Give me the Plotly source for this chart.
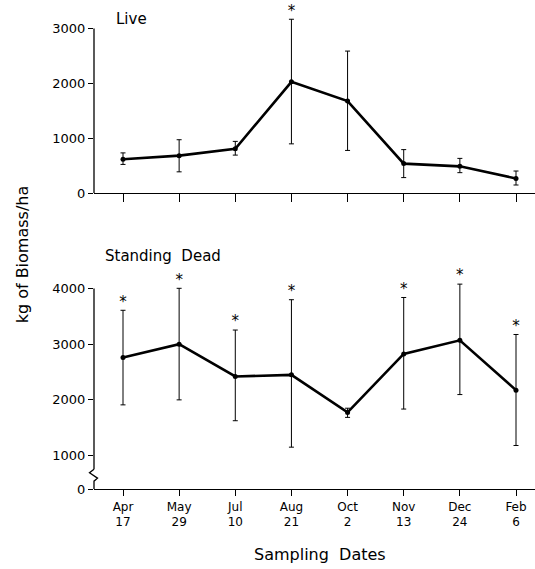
import plotly.graph_objects as go

# ---- data ----
dates = ["Apr<br>17", "May<br>29", "Jul<br>10", "Aug<br>21", "Oct<br>2", "Nov<br>13", "Dec<br>24", "Feb<br>6"]
live_mean = [620, 685, 810, 2030, 1680, 540, 490, 270]
live_err_up = [115, 290, 135, 1140, 910, 255, 145, 135]
live_err_dn = [95, 295, 115, 1130, 900, 255, 115, 120]
live_star = [False, False, False, True, False, False, False, False]

dead_mean = [2760, 3000, 2420, 2450, 1775, 2825, 3070, 2175]
dead_err_up = [850, 1005, 835, 1350, 75, 1015, 1010, 1000]
dead_err_dn = [850, 1000, 795, 1300, 90, 990, 975, 995]
dead_star = [True, True, True, True, False, True, True, True]

live_ticks = [0, 1000, 2000, 3000]
dead_ticks = [1000, 2000, 3000, 4000]

W, H = 535, 569
FONT = "DejaVu Sans"
x = list(range(len(dates)))

# pixel helpers (page pixels -> paper fraction)
def px(xp):
    return xp / W

def py(yp):
    return 1 - yp / H

# axis ranges (derived from layout pixel geometry)
top_px_per = (196 - 29) / 3000.0
top_range = [0, 196 / top_px_per]
bot_px_per = (462 - 292.7) / 3000.0
bot_zero_val = 1000 - (496 - 462) / bot_px_per   # value shown as "0" (axis break)
bot_range = [bot_zero_val, 1000 + (462 - 210) / bot_px_per]
x_step = (516 - 123) / 7.0
x_range = [-(123 - 94) / x_step, 7 + (535 - 516) / x_step]

fig = go.Figure()

def add_series(mean, up, dn, star, xa, ya):
    fig.add_trace(go.Scatter(
        x=x, y=mean, xaxis=xa, yaxis=ya, mode="lines+markers",
        line=dict(color="black", width=2.6),
        marker=dict(color="black", size=5),
        error_y=dict(type="data", symmetric=False, array=up, arrayminus=dn,
                     color="black", thickness=1, width=2.5),
        showlegend=False, hoverinfo="skip"))
    sx = [xi for xi, s in zip(x, star) if s]
    sy = [m + u for m, u, s in zip(mean, up, star) if s]
    fig.add_trace(go.Scatter(
        x=sx, y=sy, xaxis=xa, yaxis=ya, mode="text", text=["*"] * len(sx),
        textposition="top center", textfont=dict(family=FONT, size=15, color="black"),
        showlegend=False, hoverinfo="skip", cliponaxis=False))

add_series(live_mean, live_err_up, live_err_dn, live_star, "x", "y")
add_series(dead_mean, dead_err_up, dead_err_dn, dead_star, "x2", "y2")

axis_common = dict(showgrid=False, zeroline=False, ticks="outside", tickcolor="black",
                   tickwidth=1)
yfont = dict(family=FONT, size=13, color="black")
xfont = dict(family=FONT, size=12, color="black")

fig.update_layout(
    width=W, height=H, autosize=False,
    margin=dict(l=0, r=0, t=0, b=0),
    paper_bgcolor="white", plot_bgcolor="white",
    xaxis=dict(domain=[px(94), 1], range=x_range, anchor="y", tickvals=x,
               showticklabels=False, showline=True, linecolor="black", linewidth=1.3,
               ticklen=8, tickfont=xfont, **axis_common),
    yaxis=dict(domain=[py(196), 1], range=top_range, anchor="x", tickvals=live_ticks,
               ticktext=[str(v) for v in live_ticks], ticklen=5, showline=False,
               tickfont=yfont, **axis_common),
    xaxis2=dict(domain=[px(94), 1], range=x_range, anchor="y2", tickvals=x, ticktext=dates,
                showline=True, linecolor="black", linewidth=1.3, ticklen=6,
                tickfont=xfont, **axis_common),
    yaxis2=dict(domain=[py(496), py(210)], range=bot_range, anchor="x2",
                tickvals=[bot_zero_val] + dead_ticks,
                ticktext=["0"] + [str(v) for v in dead_ticks], ticklen=5, showline=False,
                tickfont=yfont, **axis_common),
)

# y-axis lines (top: 0..3000, bottom: 4000..break..0)
fig.add_shape(type="line", xref="x domain", yref="y", x0=0, x1=0, y0=0, y1=live_ticks[-1],
              line=dict(color="black", width=1.3))
break_top = 1000 - (476 - 462) / bot_px_per
fig.add_shape(type="line", xref="x2 domain", yref="y2", x0=0, x1=0, y0=break_top, y1=dead_ticks[-1],
              line=dict(color="black", width=1.3))
# axis break zigzag
fig.add_shape(type="path", xref="paper", yref="paper",
              path=f"M {px(94)},{py(476)} L {px(89.5)},{py(479.5)} L {px(97.5)},{py(485)} L {px(94)},{py(488)} L {px(94)},{py(496)}",
              line=dict(color="black", width=1.3))

ann = dict(xref="paper", yref="paper", showarrow=False, xanchor="center", yanchor="middle")
ann_font = dict(family=FONT, color="black")
fig.add_annotation(text="Live", x=px(131), y=py(19), font=dict(size=15, **ann_font), **ann)
fig.add_annotation(text="Standing\u00a0\u00a0Dead", x=px(163), y=py(260), font=dict(size=15, **ann_font), **ann)
fig.add_annotation(text="kg of Biomass/ha", x=px(22), y=py(258), textangle=-90, font=dict(size=16, **ann_font), **ann)
fig.add_annotation(text="Sampling\u00a0\u00a0Dates", x=px(320), y=py(562), font=dict(size=16, **ann_font), **ann)

fig.write_html("out.html", config={"displayModeBar": False},
               post_script="document.body.style.margin='0';document.body.style.padding='0';"
                           "document.documentElement.style.overflow='hidden';")
